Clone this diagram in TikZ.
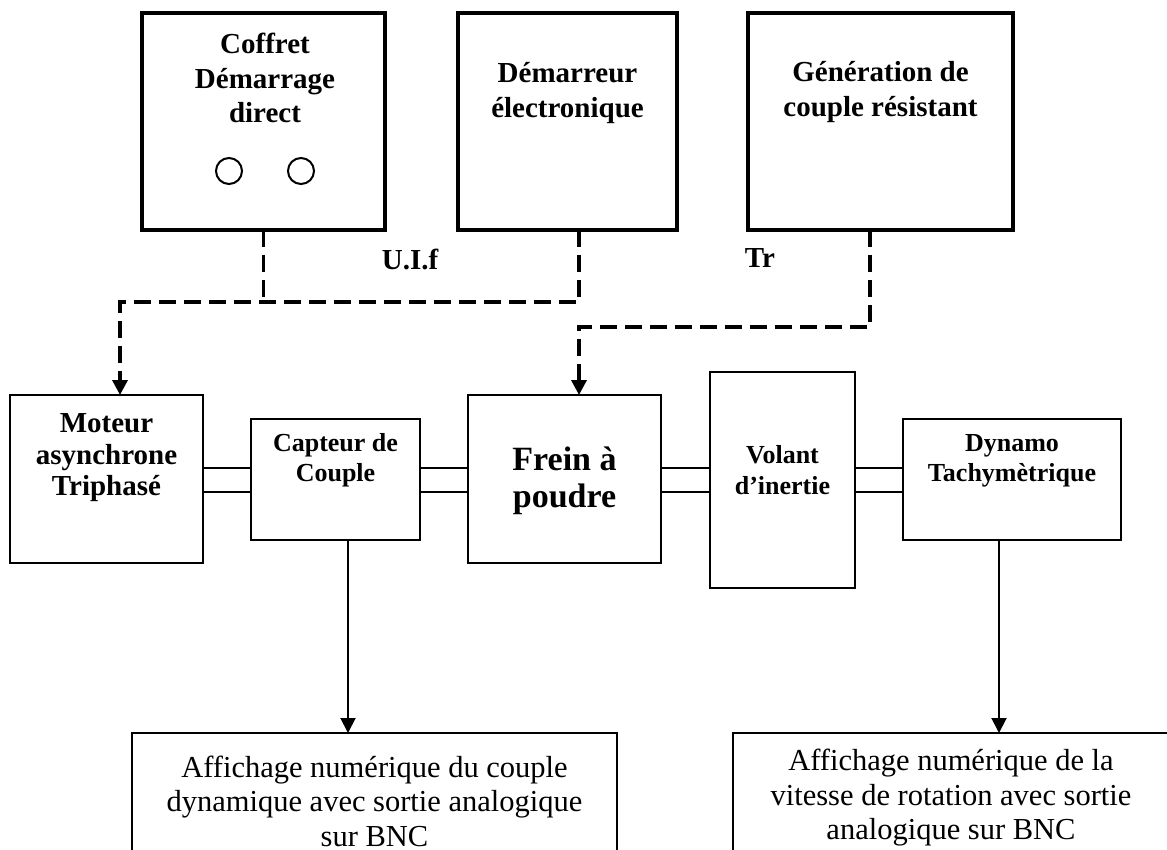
\documentclass[tikz,border=0pt]{standalone}
\usepackage{fontspec}
\setmainfont{Liberation Serif}
\usetikzlibrary{arrows.meta}
\begin{document}
\begin{tikzpicture}[x=0.5pt,y=-0.5pt,
  bx/.style 2 args={minimum width=#1*0.5pt,minimum height=#2*0.5pt,inner sep=0pt,outer sep=0pt},
  topbox/.style={draw,line width=1.8pt},
  midbox/.style={draw,line width=1pt},
  lbl/.style 2 args={align=center,inner sep=0pt,font=\bfseries\fontsize{#1}{#2}\selectfont},
  rlbl/.style 2 args={align=center,inner sep=0pt,font=\fontsize{#1}{#2}\selectfont},
  dashline/.style={line width=1.75pt,dash pattern=on 8.5pt off 4pt},
  dasharrow/.style={dashline,-{Triangle[length=7.5pt,width=7.5pt]}},
  shaft/.style={line width=1pt},
  outarrow/.style={line width=1pt,-{Triangle[length=7.5pt,width=7.5pt]}},
  knob/.style={draw,circle,line width=1pt,minimum size=13pt,inner sep=0pt}
]
\useasboundingbox (0,0) rectangle (1167,850);
\fill[white] (0,0) rectangle (1167,850);
\clip (0,0) rectangle (1167,850);

% top boxes
\node[topbox,bx={243}{217}] (box1) at (263.5,121.5) {};
\node[topbox,bx={219}{217}] (box2) at (567.5,121.5) {};
\node[topbox,bx={265}{217}] (box3) at (880.5,121.5) {};
\node[lbl={14.5}{17.25}] (t1) at (265,78) {Coffret\\Démarrage\\direct};
\node[knob] (k1) at (229,171) {};
\node[knob] (k2) at (301,171) {};
\node[lbl={14.5}{17.25}] (t2) at (567.5,93) {Démarreur\\électronique};
\node[lbl={14.5}{17.25}] (t3) at (880.5,92) {Génération de\\couple résistant};

% labels
\node[lbl={14.5}{17}] (uif) at (410,259) {U.I.f};
\node[lbl={14.5}{17}] (tr) at (760,258) {Tr};

% middle row
\node[midbox,bx={193}{168}] (moteur) at (106.5,479) {};
\node[midbox,bx={169}{121}] (capteur) at (335.5,479.5) {};
\node[midbox,bx={193}{168}] (frein) at (564.5,479) {};
\node[midbox,bx={145}{216}] (volant) at (782.5,480) {};
\node[midbox,bx={218}{121}] (dynamo) at (1012,479.5) {};
\node[lbl={14.5}{15.75}] (tm) at (106.5,458) {Moteur\\asynchrone\\Triphasé};
\node[lbl={13}{15}] (tc) at (335.5,460) {Capteur de\\Couple};
\node[lbl={17}{18.5}] (tf) at (564.5,481) {Frein à\\poudre};
\node[lbl={13}{15.5}] (tv) at (782.5,470) {Volant\\d’inertie};
\node[lbl={13}{15}] (td) at (1012,461) {Dynamo\\Tachymètrique};

% bottom boxes
\node[midbox,bx={485}{170}] (aff1) at (374.5,818) {};
\node[midbox,bx={439}{170}] (aff2) at (952.5,818) {};
\node[rlbl={15.25}{17.25}] (ta1) at (374.5,801) {Affichage numérique du couple\\dynamique avec sortie analogique\\sur BNC};
\node[rlbl={15.25}{17.25}] (ta2) at (951,798) {Affichage numérique de la\\vitesse de rotation avec sortie\\analogique sur BNC};

% dashed control links
\coordinate (h1) at (120,302);
\coordinate (h2) at (579,302);
\coordinate (h3) at (870,327);
\coordinate (h4) at (579,327);
\draw[dashline] (box1.south) -- (box1.south |- h1);
\draw[dasharrow] (box2.south -| h2) -- (h2) -- (h1) -- (h1 |- moteur.north);
\draw[dasharrow] (box3.south -| h3) -- (h3) -- (h4) -- (h4 |- frein.north);

% shafts
\coordinate (s1) at (0,468);
\coordinate (s2) at (0,492);
\foreach \a/\b in {moteur/capteur,capteur/frein,frein/volant,volant/dynamo}{
  \draw[shaft] (\a.east |- s1) -- (\b.west |- s1);
  \draw[shaft] (\a.east |- s2) -- (\b.west |- s2);
}

% outputs
\coordinate (o1) at (348,0);
\coordinate (o2) at (999,0);
\draw[outarrow] (capteur.south -| o1) -- (o1 |- aff1.north);
\draw[outarrow] (dynamo.south -| o2) -- (o2 |- aff2.north);
\end{tikzpicture}
\end{document}
